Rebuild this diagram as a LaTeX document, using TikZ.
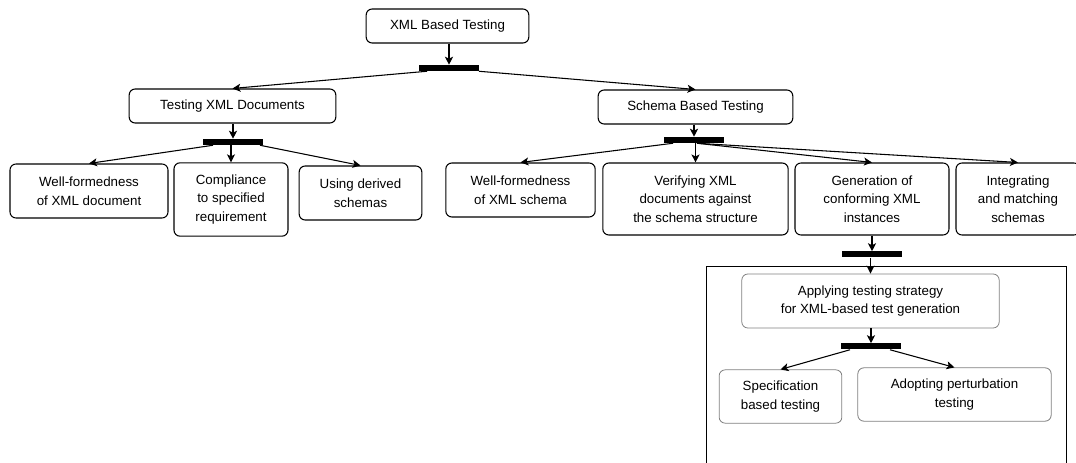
\documentclass[tikz,border=0pt]{standalone}
\usepackage{fontspec}
\setmainfont{Liberation Sans}
\usetikzlibrary{arrows.meta,calc}

\begin{document}
\begin{tikzpicture}[x=0.75pt, y=-0.75pt,
    box/.style={draw, rounded corners=4.5pt, line width=0.8pt, align=center, inner sep=2pt, font=\fontsize{10}{14}\selectfont},
    subbox/.style={box, draw=black!50, line width=0.6pt},
    bar/.style={fill=black, minimum width=45pt, minimum height=4.5pt, inner sep=0pt},
    arr/.style={-{Stealth[length=6pt,width=6pt,inset=1.5pt]}, line width=0.8pt}]
    \useasboundingbox (0,0) rectangle (1076,463);
    % levels
    \node[box, minimum width=122pt, minimum height=25.5pt] (root) at (447.5,26) {XML Based Testing};
    \node[box, minimum width=155pt, minimum height=25.5pt] (txd) at (232.5,106) {Testing XML Documents};
    \node[box, minimum width=146pt, minimum height=25.5pt] (sbt) at (695.5,107) {Schema Based Testing};
    \node[box, minimum width=118.5pt, minimum height=40.5pt] (wfd) at (89,191) {Well-formedness\\of XML document};
    \node[box, minimum width=85.5pt, minimum height=55pt] (comp) at (231,199.5) {Compliance\\to specified\\requirement};
    \node[box, minimum width=92pt, minimum height=40.5pt] (der) at (360.5,193) {Using derived\\schemas};
    \node[box, minimum width=112pt, minimum height=40.5pt] (wfs) at (520.5,190) {Well-formedness\\of XML schema};
    \node[box, minimum width=139pt, minimum height=54pt] (ver) at (695.5,199) {Verifying XML\\documents against\\the schema structure};
    \node[box, minimum width=115.5pt, minimum height=54pt] (gen) at (872,199) {Generation of\\conforming XML\\instances};
    \node[box, minimum width=93pt, minimum height=54pt] (integ) at (1018,199) {Integrating\\and matching\\schemas};
    % test generation frame
    \draw[line width=0.6pt] (706,470) |- (1066,266) -- (1066,470);
    \node[subbox, minimum width=193pt, minimum height=40.5pt] (app) at (870.5,301) {Applying testing strategy\\for XML-based test generation};
    \node[subbox, minimum width=92pt, minimum height=40pt] (spec) at (780.5,396.5) {Specification\\based testing};
    \node[subbox, minimum width=145pt, minimum height=40pt] (adop) at (954.5,394.5) {Adopting perturbation\\testing};
    % fork bars
    \foreach \n/\x/\y in {b1/449/68, b2/233/142, b3/694/140, b4/872/254.5, b5/871/346.5}
      \node[bar] (\n) at (\x,\y) {};
    \draw[arr] (root.south -| b1.north) -- (b1.north);
    \draw[arr] (txd.south -| b2.north) -- (b2.north);
    \draw[arr] (sbt.south -| b3.north) -- (b3.north);
    \draw[arr] (gen.south) -- (gen.south |- b4.north);
    \draw[arr] (b4.south -| app.north) -- (app.north);
    \draw[arr] (app.south -| b5.north) -- (b5.north);
    \draw[arr] ($(b1.south)+(-22,0)$) -- (txd.north);
    \draw[arr] ($(b1.south)+(30,0)$) -- (sbt.north);
    \draw[arr] ($(b2.south)+(-20,0)$) -- (wfd.north);
    \draw[arr] (b2.south -| comp.north) -- (comp.north);
    \draw[arr] ($(b2.south)+(27,0)$) -- (der.north);
    \draw[arr] ($(b3.south)+(-21,0)$) -- (wfs.north);
    \draw[arr] (b3.south -| ver.north) -- (ver.north);
    \foreach \t in {gen,integ}
      \draw[arr] ($(b3.south)+(3,0)$) -- (\t.north);
    \draw[arr] ($(b5.south)+(-21,0)$) -- (spec.north);
    \draw[arr] ($(b5.south)+(19,0)$) -- (adop.north);
\end{tikzpicture}
\end{document}
